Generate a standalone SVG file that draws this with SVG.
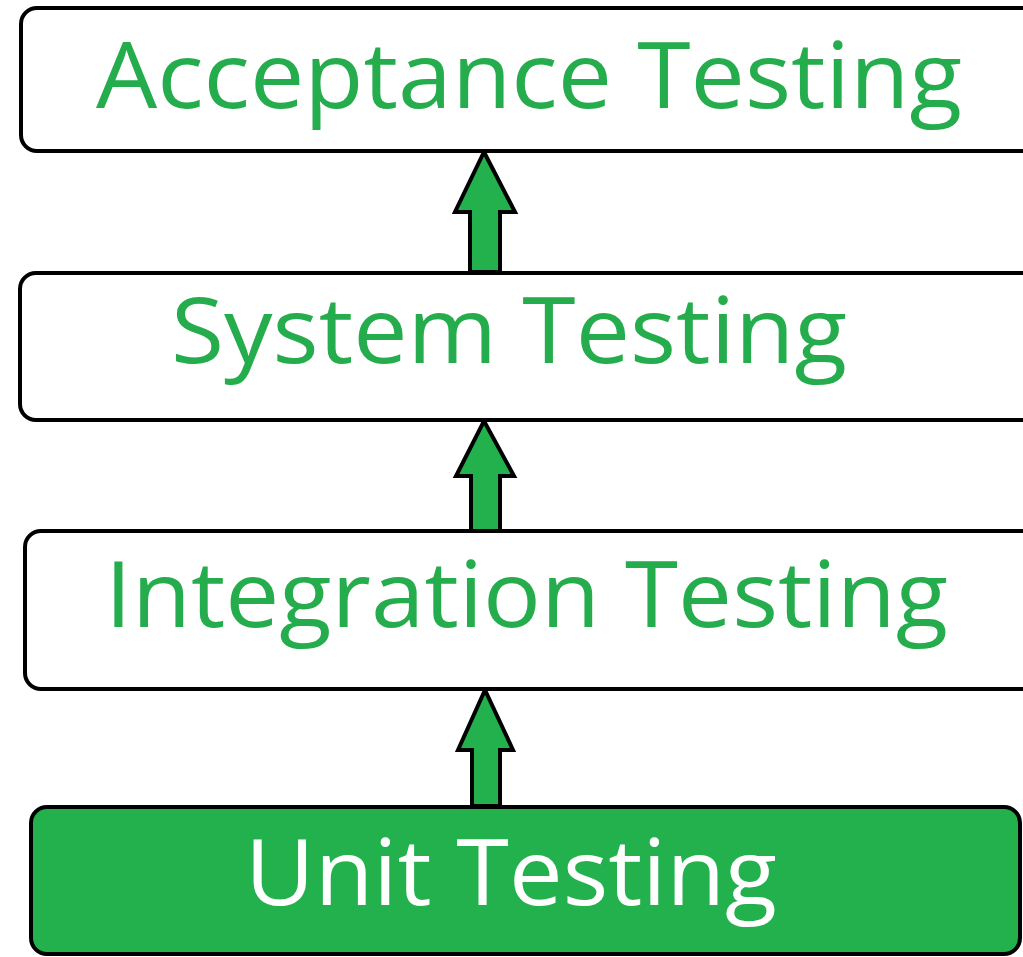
<svg xmlns="http://www.w3.org/2000/svg" width="1023" height="957" viewBox="0 0 1023 957">
<style>
.box{fill:#ffffff;stroke:#000;stroke-width:4}
.boxg{fill:#22b14c;stroke:#000;stroke-width:4}
.lbl{font-family:"Open Sans","Noto Sans",sans-serif;font-size:91px;fill:#25ad4d}
.lblw{font-family:"Open Sans","Noto Sans",sans-serif;font-size:91px;fill:#ffffff}
.arr{fill:#22b14c;stroke:#000;stroke-width:4;stroke-linejoin:miter}
</style>
<rect width="1023" height="957" fill="#fff"/>
<g id="connectors">
<path class="arr" d="M484,152 L515,212 L500,212 L500,272 L470,272 L470,212 L455,212 Z"/>
<path class="arr" d="M484,421 L514,476 L500,476 L500,531 L471,531 L471,476 L456,476 Z"/>
<path class="arr" d="M485,690 L513,750 L500,750 L500,806 L472,806 L472,750 L458,750 Z"/>
</g>
<g id="acceptance">
<rect class="box" x="21" y="8" width="1040" height="143" rx="16"/>
<text class="lbl" x="96" y="108" textLength="866" lengthAdjust="spacingAndGlyphs">Acceptance Testing</text>
</g>
<g id="system">
<rect class="box" x="20" y="273" width="1040" height="147" rx="16"/>
<text class="lbl" x="171" y="363" textLength="676" lengthAdjust="spacingAndGlyphs">System Testing</text>
</g>
<g id="integration">
<rect class="box" x="25" y="531" width="1035" height="158" rx="16"/>
<text class="lbl" x="105" y="627" textLength="843" lengthAdjust="spacingAndGlyphs">Integration Testing</text>
</g>
<g id="unit">
<rect class="boxg" x="31" y="807" width="989" height="147" rx="16"/>
<text class="lblw" x="245" y="905" textLength="532" lengthAdjust="spacingAndGlyphs">Unit Testing</text>
</g>
</svg>
